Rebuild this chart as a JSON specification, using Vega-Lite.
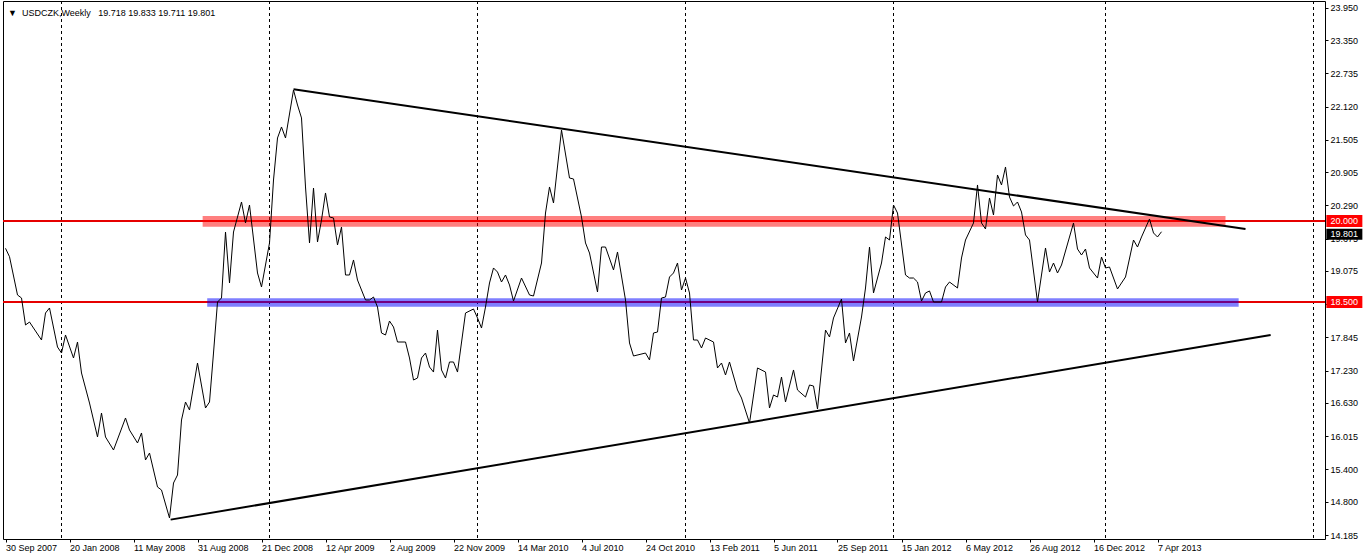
{
  "$schema": "https://vega.github.io/schema/vega-lite/v6.json",
  "width": 1322,
  "height": 538,
  "autosize": {"type": "none"},
  "padding": {"left": 3, "top": 1, "right": 40, "bottom": 21},
  "background": "white",
  "config": {
    "view": {"stroke": "black", "strokeWidth": 1},
    "font": "Liberation Sans",
    "axis": {"labelFont": "Liberation Sans", "labelFontSize": 9, "labelColor": "black", "tickColor": "black", "domain": false, "grid": false, "title": null}
  },
  "resolve": {"axis": {"x": "independent", "y": "independent"}},
  "title": {
    "text": "▼\u00a0 USDCZK,Weekly\u00a0\u00a0 19.718 19.833 19.711 19.801",
    "anchor": "start",
    "frame": "group",
    "offset": -24,
    "dx": 5,
    "baseline": "alphabetic",
    "font": "Liberation Sans",
    "fontSize": 9,
    "fontWeight": "normal",
    "color": "black"
  },
  "datasets": {
    "seps": [
      {"d": "2008-01-06"}, {"d": "2009-01-04"}, {"d": "2010-01-03"}, {"d": "2011-01-02"},
      {"d": "2012-01-01"}, {"d": "2013-01-06"}, {"d": "2014-01-05"}
    ],
    "hlines": [{"v": 20.0}, {"v": 18.5}],
    "bands": [
      {"kind": "resistance", "d": "2008-09-09", "d2": "2013-08-04", "v": 20.093, "v2": 19.894},
      {"kind": "support", "d": "2008-09-17", "d2": "2013-08-27", "v": 18.568, "v2": 18.413}
    ],
    "trend": [
      {"id": "upper", "d": "2009-02-15", "v": 22.44},
      {"id": "upper", "d": "2013-09-08", "v": 19.85},
      {"id": "lower", "d": "2008-07-15", "v": 14.47},
      {"id": "lower", "d": "2013-10-22", "v": 17.89}
    ],
    "levels": [
      {"d": "2014-02-28", "v": 20.0},
      {"d": "2014-02-28", "v": 18.5}
    ],
    "last": [
      {"d": "2014-02-28", "v": 19.801}
    ],
    "price": [
      {"d": "2007-09-30", "v": 19.494}, {"d": "2007-10-07", "v": 19.339}, {"d": "2007-10-21", "v": 18.630},
      {"d": "2007-10-28", "v": 18.574}, {"d": "2007-11-04", "v": 18.074}, {"d": "2007-11-11", "v": 18.129},
      {"d": "2007-12-02", "v": 17.796}, {"d": "2007-12-09", "v": 18.296}, {"d": "2007-12-16", "v": 18.389},
      {"d": "2007-12-30", "v": 17.666}, {"d": "2008-01-06", "v": 17.555}, {"d": "2008-01-13", "v": 17.889},
      {"d": "2008-01-27", "v": 17.463}, {"d": "2008-02-03", "v": 17.759}, {"d": "2008-02-10", "v": 17.185},
      {"d": "2008-02-24", "v": 16.629}, {"d": "2008-03-09", "v": 16.000}, {"d": "2008-03-16", "v": 16.444},
      {"d": "2008-03-23", "v": 16.000}, {"d": "2008-04-06", "v": 15.759}, {"d": "2008-04-27", "v": 16.352},
      {"d": "2008-05-04", "v": 16.129}, {"d": "2008-05-18", "v": 15.889}, {"d": "2008-05-25", "v": 16.074},
      {"d": "2008-06-01", "v": 15.574}, {"d": "2008-06-08", "v": 15.703}, {"d": "2008-06-22", "v": 15.074},
      {"d": "2008-06-29", "v": 15.018}, {"d": "2008-07-13", "v": 14.500}, {"d": "2008-07-20", "v": 15.148},
      {"d": "2008-07-27", "v": 15.296}, {"d": "2008-08-03", "v": 16.315}, {"d": "2008-08-10", "v": 16.648},
      {"d": "2008-08-17", "v": 16.500}, {"d": "2008-08-31", "v": 17.370}, {"d": "2008-09-14", "v": 16.537},
      {"d": "2008-09-21", "v": 16.648}, {"d": "2008-09-28", "v": 17.555}, {"d": "2008-10-05", "v": 18.500},
      {"d": "2008-10-12", "v": 18.574}, {"d": "2008-10-19", "v": 19.796}, {"d": "2008-10-26", "v": 18.852},
      {"d": "2008-11-02", "v": 19.796}, {"d": "2008-11-16", "v": 20.352}, {"d": "2008-11-23", "v": 19.963},
      {"d": "2008-11-30", "v": 20.296}, {"d": "2008-12-14", "v": 19.037}, {"d": "2008-12-21", "v": 18.778},
      {"d": "2009-01-04", "v": 19.593}, {"d": "2009-01-11", "v": 20.759}, {"d": "2009-01-18", "v": 21.537},
      {"d": "2009-01-25", "v": 21.741}, {"d": "2009-02-01", "v": 21.537}, {"d": "2009-02-15", "v": 22.426},
      {"d": "2009-02-22", "v": 22.148}, {"d": "2009-03-01", "v": 21.908}, {"d": "2009-03-08", "v": 20.630},
      {"d": "2009-03-15", "v": 19.593}, {"d": "2009-03-22", "v": 20.611}, {"d": "2009-03-29", "v": 19.611},
      {"d": "2009-04-05", "v": 20.019}, {"d": "2009-04-12", "v": 20.519}, {"d": "2009-04-19", "v": 20.074},
      {"d": "2009-04-26", "v": 20.056}, {"d": "2009-05-03", "v": 19.556}, {"d": "2009-05-10", "v": 19.889},
      {"d": "2009-05-17", "v": 19.000}, {"d": "2009-05-24", "v": 19.000}, {"d": "2009-05-31", "v": 19.278},
      {"d": "2009-06-07", "v": 18.907}, {"d": "2009-06-21", "v": 18.537}, {"d": "2009-06-28", "v": 18.537},
      {"d": "2009-07-05", "v": 18.592}, {"d": "2009-07-12", "v": 18.407}, {"d": "2009-07-19", "v": 17.926},
      {"d": "2009-07-26", "v": 17.889}, {"d": "2009-08-02", "v": 18.148}, {"d": "2009-08-09", "v": 18.037},
      {"d": "2009-08-16", "v": 17.759}, {"d": "2009-08-30", "v": 17.759}, {"d": "2009-09-06", "v": 17.463},
      {"d": "2009-09-13", "v": 17.055}, {"d": "2009-09-20", "v": 17.092}, {"d": "2009-09-27", "v": 17.463},
      {"d": "2009-10-04", "v": 17.555}, {"d": "2009-10-11", "v": 17.296}, {"d": "2009-10-18", "v": 17.203},
      {"d": "2009-10-25", "v": 17.981}, {"d": "2009-11-01", "v": 17.241}, {"d": "2009-11-08", "v": 17.092},
      {"d": "2009-11-15", "v": 17.389}, {"d": "2009-11-22", "v": 17.389}, {"d": "2009-11-29", "v": 17.203},
      {"d": "2009-12-13", "v": 18.296}, {"d": "2009-12-27", "v": 18.370}, {"d": "2010-01-03", "v": 18.204},
      {"d": "2010-01-10", "v": 18.018}, {"d": "2010-01-17", "v": 18.407}, {"d": "2010-01-24", "v": 18.852},
      {"d": "2010-01-31", "v": 19.130}, {"d": "2010-02-07", "v": 19.055}, {"d": "2010-02-14", "v": 18.870},
      {"d": "2010-02-21", "v": 19.000}, {"d": "2010-02-28", "v": 18.815}, {"d": "2010-03-07", "v": 18.518},
      {"d": "2010-03-21", "v": 18.944}, {"d": "2010-04-04", "v": 18.630}, {"d": "2010-04-11", "v": 18.611},
      {"d": "2010-04-25", "v": 19.222}, {"d": "2010-05-02", "v": 20.148}, {"d": "2010-05-09", "v": 20.630},
      {"d": "2010-05-16", "v": 20.333}, {"d": "2010-05-30", "v": 21.685}, {"d": "2010-06-13", "v": 20.796},
      {"d": "2010-06-20", "v": 20.778}, {"d": "2010-07-04", "v": 20.074}, {"d": "2010-07-11", "v": 19.593},
      {"d": "2010-07-18", "v": 19.407}, {"d": "2010-08-01", "v": 18.685}, {"d": "2010-08-08", "v": 19.518},
      {"d": "2010-08-15", "v": 19.518}, {"d": "2010-08-29", "v": 19.093}, {"d": "2010-09-05", "v": 19.426},
      {"d": "2010-09-19", "v": 18.537}, {"d": "2010-09-26", "v": 17.741}, {"d": "2010-10-03", "v": 17.500},
      {"d": "2010-10-24", "v": 17.555}, {"d": "2010-10-31", "v": 17.426}, {"d": "2010-11-07", "v": 17.926},
      {"d": "2010-11-14", "v": 17.944}, {"d": "2010-11-21", "v": 18.574}, {"d": "2010-11-28", "v": 18.592},
      {"d": "2010-12-05", "v": 18.963}, {"d": "2010-12-12", "v": 19.037}, {"d": "2010-12-19", "v": 19.222},
      {"d": "2010-12-26", "v": 18.722}, {"d": "2011-01-02", "v": 18.944}, {"d": "2011-01-09", "v": 18.667},
      {"d": "2011-01-16", "v": 17.796}, {"d": "2011-01-23", "v": 17.796}, {"d": "2011-01-30", "v": 17.648},
      {"d": "2011-02-06", "v": 17.833}, {"d": "2011-02-20", "v": 17.759}, {"d": "2011-02-27", "v": 17.278},
      {"d": "2011-03-06", "v": 17.370}, {"d": "2011-03-13", "v": 17.148}, {"d": "2011-03-20", "v": 17.389},
      {"d": "2011-04-03", "v": 16.870}, {"d": "2011-04-10", "v": 16.722}, {"d": "2011-04-24", "v": 16.259},
      {"d": "2011-05-08", "v": 17.278}, {"d": "2011-05-22", "v": 17.203}, {"d": "2011-05-29", "v": 16.537},
      {"d": "2011-06-05", "v": 16.778}, {"d": "2011-06-12", "v": 16.740}, {"d": "2011-06-19", "v": 17.111},
      {"d": "2011-06-26", "v": 16.648}, {"d": "2011-07-10", "v": 17.241}, {"d": "2011-07-17", "v": 16.870},
      {"d": "2011-07-31", "v": 16.740}, {"d": "2011-08-07", "v": 16.963}, {"d": "2011-08-14", "v": 16.944},
      {"d": "2011-08-21", "v": 16.518}, {"d": "2011-09-04", "v": 17.981}, {"d": "2011-09-11", "v": 17.852},
      {"d": "2011-09-18", "v": 18.204}, {"d": "2011-10-02", "v": 18.555}, {"d": "2011-10-09", "v": 17.741},
      {"d": "2011-10-16", "v": 17.926}, {"d": "2011-10-23", "v": 17.407}, {"d": "2011-11-06", "v": 18.222},
      {"d": "2011-11-13", "v": 18.759}, {"d": "2011-11-20", "v": 19.518}, {"d": "2011-11-27", "v": 18.667},
      {"d": "2011-12-11", "v": 19.222}, {"d": "2011-12-18", "v": 19.704}, {"d": "2011-12-25", "v": 19.648},
      {"d": "2012-01-01", "v": 20.296}, {"d": "2012-01-08", "v": 20.148}, {"d": "2012-01-22", "v": 19.000},
      {"d": "2012-01-29", "v": 18.944}, {"d": "2012-02-05", "v": 18.944}, {"d": "2012-02-12", "v": 18.870},
      {"d": "2012-02-19", "v": 18.518}, {"d": "2012-02-26", "v": 18.667}, {"d": "2012-03-04", "v": 18.704},
      {"d": "2012-03-11", "v": 18.500}, {"d": "2012-03-25", "v": 18.500}, {"d": "2012-04-01", "v": 18.778},
      {"d": "2012-04-08", "v": 18.870}, {"d": "2012-04-22", "v": 18.759}, {"d": "2012-04-29", "v": 19.315},
      {"d": "2012-05-06", "v": 19.648}, {"d": "2012-05-20", "v": 19.963}, {"d": "2012-05-27", "v": 20.667},
      {"d": "2012-06-03", "v": 19.963}, {"d": "2012-06-10", "v": 19.852}, {"d": "2012-06-17", "v": 20.426},
      {"d": "2012-06-24", "v": 20.111}, {"d": "2012-07-01", "v": 20.852}, {"d": "2012-07-08", "v": 20.667},
      {"d": "2012-07-15", "v": 21.000}, {"d": "2012-07-22", "v": 20.444}, {"d": "2012-07-29", "v": 20.278},
      {"d": "2012-08-05", "v": 20.352}, {"d": "2012-08-12", "v": 20.167}, {"d": "2012-08-19", "v": 19.741},
      {"d": "2012-08-26", "v": 19.648}, {"d": "2012-09-09", "v": 18.500}, {"d": "2012-09-23", "v": 19.500},
      {"d": "2012-09-30", "v": 19.055}, {"d": "2012-10-07", "v": 19.222}, {"d": "2012-10-14", "v": 19.037},
      {"d": "2012-10-21", "v": 19.185}, {"d": "2012-11-11", "v": 19.963}, {"d": "2012-11-18", "v": 19.481},
      {"d": "2012-11-25", "v": 19.370}, {"d": "2012-12-02", "v": 19.481}, {"d": "2012-12-09", "v": 19.130},
      {"d": "2012-12-23", "v": 18.944}, {"d": "2012-12-30", "v": 19.333}, {"d": "2013-01-06", "v": 19.130},
      {"d": "2013-01-13", "v": 19.148}, {"d": "2013-01-27", "v": 18.741}, {"d": "2013-02-10", "v": 18.963},
      {"d": "2013-02-24", "v": 19.648}, {"d": "2013-03-03", "v": 19.518}, {"d": "2013-03-10", "v": 19.704},
      {"d": "2013-03-24", "v": 20.037}, {"d": "2013-03-31", "v": 19.778}, {"d": "2013-04-07", "v": 19.704},
      {"d": "2013-04-14", "v": 19.801}
    ]
  },
  "layer": [
    {
      "data": {"name": "seps"},
      "mark": {"type": "rule", "color": "black", "strokeWidth": 1, "strokeDash": [3, 3]},
      "encoding": {
        "x": {
          "field": "d", "type": "temporal",
          "scale": {"type": "utc", "domain": [
            {"year": 2007, "month": 9, "date": 25, "hours": 15, "utc": true},
            {"year": 2014, "month": 1, "date": 25, "hours": 3, "utc": true}
          ]},
          "axis": {
            "values": [
              {"year": 2007, "month": 9, "date": 30, "utc": true},
              {"year": 2008, "month": 1, "date": 20, "utc": true},
              {"year": 2008, "month": 5, "date": 11, "utc": true},
              {"year": 2008, "month": 8, "date": 31, "utc": true},
              {"year": 2008, "month": 12, "date": 21, "utc": true},
              {"year": 2009, "month": 4, "date": 12, "utc": true},
              {"year": 2009, "month": 8, "date": 2, "utc": true},
              {"year": 2009, "month": 11, "date": 22, "utc": true},
              {"year": 2010, "month": 3, "date": 14, "utc": true},
              {"year": 2010, "month": 7, "date": 4, "utc": true},
              {"year": 2010, "month": 10, "date": 24, "utc": true},
              {"year": 2011, "month": 2, "date": 13, "utc": true},
              {"year": 2011, "month": 6, "date": 5, "utc": true},
              {"year": 2011, "month": 9, "date": 25, "utc": true},
              {"year": 2012, "month": 1, "date": 15, "utc": true},
              {"year": 2012, "month": 5, "date": 6, "utc": true},
              {"year": 2012, "month": 8, "date": 26, "utc": true},
              {"year": 2012, "month": 12, "date": 16, "utc": true},
              {"year": 2013, "month": 4, "date": 7, "utc": true}
            ],
            "labelExpr": "utcFormat(datum.value, '%-d %b %Y')",
            "orient": "bottom",
            "labelAlign": "left",
            "labelBaseline": "top",
            "labelPadding": 1,
            "tickSize": 3,
            "labelFlush": false,
            "labelOverlap": false,
            "labelBound": false,
            "title": null
          }
        }
      }
    },
    {
      "data": {"name": "hlines"},
      "mark": {"type": "rule", "color": "#e60000", "strokeWidth": 2},
      "encoding": {
        "y": {
          "field": "v", "type": "quantitative",
          "scale": {"domain": [14.111, 24.074], "nice": false, "zero": false},
          "axis": {
            "orient": "right",
            "values": [14.185, 14.8, 15.4, 16.015, 16.63, 17.23, 17.845, 18.46, 19.075, 19.675, 20.29, 20.905, 21.505, 22.12, 22.735, 23.35, 23.95],
            "labelExpr": "format(datum.value, '.3f')",
            "tickSize": 3,
            "labelPadding": 2,
            "labelAlign": "left",
            "labelBaseline": "middle",
            "labelOverlap": false,
            "labelFlush": false,
            "labelBound": false,
            "title": null
          }
        }
      }
    },
    {
      "data": {"name": "bands"},
      "mark": {"type": "rect", "opacity": 0.5},
      "encoding": {
        "x": {"field": "d", "type": "temporal", "axis": null},
        "x2": {"field": "d2"},
        "y": {"field": "v", "type": "quantitative", "axis": null},
        "y2": {"field": "v2"},
        "color": {"field": "kind", "type": "nominal", "scale": {"domain": ["resistance", "support"], "range": ["#ff0000", "#0000ff"]}, "legend": null}
      }
    },
    {
      "data": {"name": "price"},
      "mark": {"type": "line", "color": "black", "strokeWidth": 1},
      "encoding": {
        "x": {"field": "d", "type": "temporal", "axis": null},
        "y": {"field": "v", "type": "quantitative", "axis": null}
      }
    },
    {
      "data": {"name": "trend"},
      "mark": {"type": "line", "color": "black", "strokeWidth": 2},
      "encoding": {
        "x": {"field": "d", "type": "temporal", "axis": null},
        "y": {"field": "v", "type": "quantitative", "axis": null},
        "detail": {"field": "id", "type": "nominal"}
      }
    },
    {
      "data": {"name": "levels"},
      "mark": {"type": "point", "shape": "M-1,-0.333H1V0.333H-1Z", "size": 1296, "filled": true, "color": "#ff0000", "opacity": 1, "strokeWidth": 0},
      "encoding": {
        "x": {"field": "d", "type": "temporal", "axis": null},
        "y": {"field": "v", "type": "quantitative", "axis": null}
      }
    },
    {
      "data": {"name": "last"},
      "mark": {"type": "point", "shape": "M-1,-0.17H1V0.44H-1Z", "size": 1296, "filled": true, "color": "black", "opacity": 1, "strokeWidth": 0},
      "encoding": {
        "x": {"field": "d", "type": "temporal", "axis": null},
        "y": {"field": "v", "type": "quantitative", "axis": null}
      }
    },
    {
      "data": {"name": "levels"},
      "mark": {"type": "text", "color": "white", "font": "Liberation Sans", "fontSize": 9, "align": "center", "baseline": "middle"},
      "encoding": {
        "x": {"field": "d", "type": "temporal", "axis": null},
        "y": {"field": "v", "type": "quantitative", "axis": null},
        "text": {"field": "v", "type": "quantitative", "format": ".3f"}
      }
    },
    {
      "data": {"name": "last"},
      "mark": {"type": "text", "color": "white", "font": "Liberation Sans", "fontSize": 9, "align": "center", "baseline": "middle", "dy": 2.5},
      "encoding": {
        "x": {"field": "d", "type": "temporal", "axis": null},
        "y": {"field": "v", "type": "quantitative", "axis": null},
        "text": {"field": "v", "type": "quantitative", "format": ".3f"}
      }
    }
  ]
}
